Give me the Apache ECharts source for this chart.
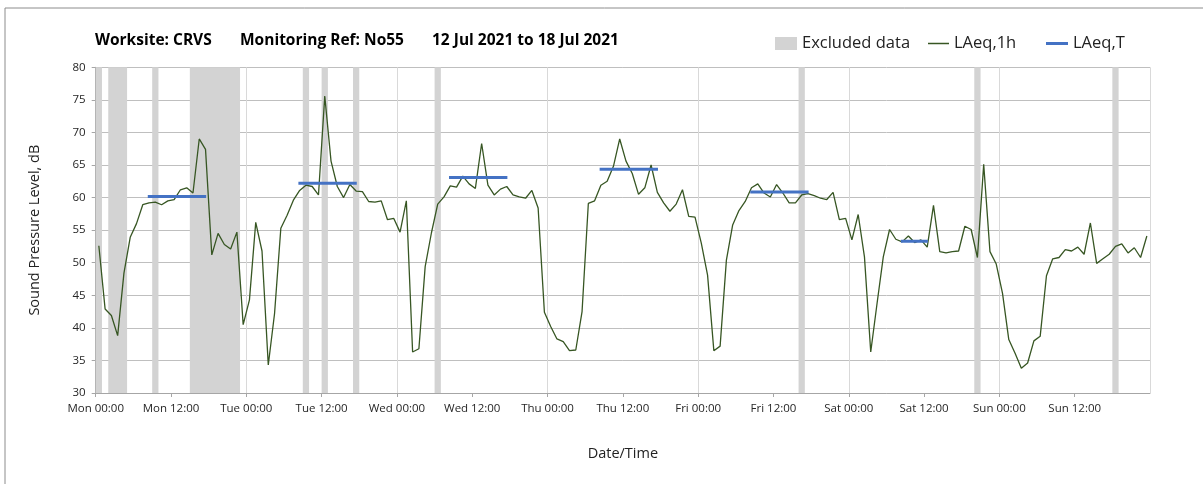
<!DOCTYPE html>
<html>
<head>
<meta charset="utf-8">
<script src="https://cdn.jsdelivr.net/npm/echarts@6/dist/echarts.min.js"></script>
<style>
html,body{margin:0;padding:0;background:#fff}
#chart{width:1203px;height:484px}
</style>
</head>
<body>
<div id="chart"></div>
<script>
// day names for the x labels
var dayNames = ['Mon','Tue','Wed','Thu','Fri','Sat','Sun'];

// hourly LAeq,1h, one value per hour from Mon 00:00 (plotted mid-hour)
var laeq1h = [
	52.6,42.9,41.9,38.8,48.4,53.9,56.0,58.9,59.2,59.3,58.9,59.5,59.7,61.2,61.5,60.7,69.0,67.4,51.2,54.5,52.8,52.1,54.7,40.5,
	44.3,56.2,51.8,34.3,42.2,55.3,57.3,59.6,61.1,61.9,61.7,60.4,75.6,65.6,61.7,60.0,62.0,61.0,60.9,59.4,59.3,59.5,56.6,56.8,
	54.7,59.5,36.3,36.8,49.4,54.6,59.0,60.1,61.8,61.6,63.3,62.1,61.4,68.3,61.9,60.4,61.3,61.7,60.4,60.1,59.9,61.1,58.4,42.4,
	40.2,38.3,37.9,36.5,36.6,42.5,59.1,59.5,61.9,62.5,64.8,69.0,65.6,63.7,60.5,61.5,65.0,60.8,59.2,57.9,59.0,61.2,57.1,57.0,
	53.0,48.1,36.5,37.2,50.4,55.8,58.0,59.4,61.5,62.1,60.7,60.1,62.0,60.7,59.2,59.2,60.4,60.6,60.3,59.9,59.7,60.8,56.6,56.8,
	53.5,57.4,50.9,36.3,43.7,50.9,55.1,53.6,53.2,54.1,53.1,53.5,52.4,58.8,51.7,51.5,51.7,51.8,55.6,55.1,50.8,65.1,51.7,49.8,
	45.3,38.2,36.1,33.8,34.6,38.0,38.7,48.0,50.6,50.8,52.0,51.8,52.4,51.3,56.1,49.9,50.6,51.3,52.5,52.9,51.5,52.3,50.8,54.1
];

// excluded periods, hours from Mon 00:00
var excludedStart = [0, 2, 9, 15, 33, 36, 41, 54, 112, 140, 162];
var excludedEnd   = [1, 5, 10, 23, 34, 37, 42, 55, 113, 141, 163];

// LAeq,T daytime periods
var laeqTStart = [8.3, 32.3, 56.3, 80.3, 104.3, 128.3];
var laeqTEnd   = [17.6, 41.6, 65.6, 89.6, 113.6, 132.6];
var laeqTLevel = [60.15, 62.2, 63.1, 64.35, 60.85, 53.3];

var FONT = 'Open Sans';

var chart = echarts.init(document.getElementById('chart'));

var lineData = laeq1h.map(function(v, i){ return [i + 0.5, v]; });

var bands = excludedStart.map(function(s, i){
	return [{xAxis: s}, {xAxis: excludedEnd[i]}];
});

var series = [
	{
		name: 'Excluded data',
		type: 'line',
		data: [],
		itemStyle: {color: '#d3d3d3'},
		markArea: {
			silent: true,
			itemStyle: {color: '#d3d3d3'},
			data: bands
		}
	},
	{
		name: 'LAeq,1h',
		type: 'line',
		data: lineData,
		symbol: 'none',
		z: 3,
		itemStyle: {color: '#375623'},
		lineStyle: {color: '#375623', width: 1.3}
	}
];

// one short series per LAeq,T period
laeqTStart.forEach(function(s, i){
	series.push({
		name: 'LAeq,T',
		type: 'line',
		data: [[s, laeqTLevel[i]], [laeqTEnd[i], laeqTLevel[i]]],
		symbol: 'none',
		z: 4,
		itemStyle: {color: '#4472C4'},
		lineStyle: {color: '#4472C4', width: 3}
	});
});

var titleStyle = {fontFamily: FONT, fontSize: 15.5, fontWeight: 'bold', color: '#000'};
var legendText = {fontFamily: FONT, fontSize: 16.5, color: '#222'};

var option = {
	animation: false,
	title: [
		{text: 'Worksite: CRVS', left: 95, top: 33, padding: 0, textStyle: titleStyle},
		{text: 'Monitoring Ref: No55', left: 240, top: 33, padding: 0, textStyle: titleStyle},
		{text: '12 Jul 2021 to 18 Jul 2021', left: 432, top: 33, padding: 0, textStyle: titleStyle}
	],
	legend: [
		{data: ['Excluded data'], left: 775, top: 35, padding: 0, icon: 'rect', itemWidth: 22, itemHeight: 13,
			textStyle: legendText},
		{data: ['LAeq,1h'], left: 928, top: 35, padding: 0, icon: 'rect', itemWidth: 21, itemHeight: 1.5,
			textStyle: legendText},
		{data: ['LAeq,T'], left: 1046, top: 35, padding: 0, icon: 'rect', itemWidth: 22, itemHeight: 3,
			textStyle: legendText}
	],
	graphic: [
		{type: 'rect', shape: {x: 5, y: 8, width: 1400, height: 700}, style: {fill: 'none', stroke: '#8c8c8c', lineWidth: 1}, silent: true}
	],
	grid: {left: 95.7, right: 53, top: 67.3, bottom: 91},
	xAxis: [
		{
			type: 'value', min: 0, max: 168, interval: 12,
			name: 'Date/Time', nameLocation: 'middle', nameGap: 53,
			nameTextStyle: {fontFamily: FONT, fontSize: 14.5, color: '#222'},
			axisLine: {lineStyle: {color: '#a6a6a6'}},
			axisTick: {show: true, length: 4, lineStyle: {color: '#a6a6a6'}},
			splitLine: {show: false},
			axisLabel: {
				showMaxLabel: false, margin: 10,
				fontFamily: FONT, fontSize: 11.5, color: '#262626',
				formatter: function(v){
					return dayNames[Math.floor(v / 24)] + (v % 24 === 0 ? ' 00:00' : ' 12:00');
				}
			}
		},
		{
			type: 'value', min: 0, max: 168, interval: 24, position: 'bottom',
			axisLine: {show: false}, axisTick: {show: false}, axisLabel: {show: false},
			splitLine: {show: true, lineStyle: {color: '#d9d9d9', width: 1}}
		}
	],
	yAxis: {
		type: 'value', min: 30, max: 80, interval: 5,
		name: 'Sound Pressure Level, dB', nameLocation: 'middle', nameGap: 53,
		nameTextStyle: {fontFamily: FONT, fontSize: 14.5, color: '#222'},
		axisLine: {show: true, lineStyle: {color: '#a6a6a6'}},
		axisTick: {show: true, length: 4, lineStyle: {color: '#a6a6a6'}},
		splitLine: {lineStyle: {color: '#bfbfbf'}},
		axisLabel: {margin: 10, fontFamily: FONT, fontSize: 11.5, color: '#262626'}
	},
	series: series
};

chart.setOption(option);
</script>
</body>
</html>
